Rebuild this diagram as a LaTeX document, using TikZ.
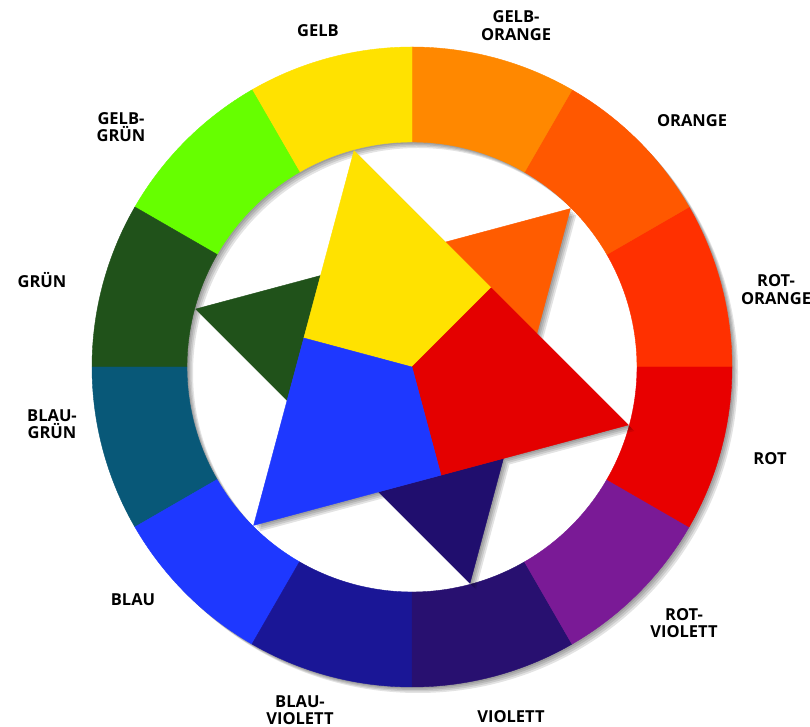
\documentclass[tikz,border=0pt]{standalone}
\usepackage{fontspec}
\setmainfont{Open Sans}
\usetikzlibrary{calc}
\definecolor{cGelb}{RGB}{255,226,0}
\definecolor{cGelbOrange}{RGB}{255,136,0}
\definecolor{cOrange}{RGB}{255,88,0}
\definecolor{cRotOrange}{RGB}{255,48,0}
\definecolor{cRot}{RGB}{232,0,0}
\definecolor{cRotViolett}{RGB}{122,26,150}
\definecolor{cViolett}{RGB}{40,16,112}
\definecolor{cBlauViolett}{RGB}{26,22,150}
\definecolor{cBlau}{RGB}{30,56,255}
\definecolor{cBlauGruen}{RGB}{8,88,120}
\definecolor{cGruen}{RGB}{32,82,26}
\definecolor{cGelbGruen}{RGB}{102,255,0}
\definecolor{sRot}{RGB}{228,0,0}
\definecolor{sOrange}{RGB}{255,92,0}
\definecolor{sViolett}{RGB}{32,14,110}
\begin{document}
\begin{tikzpicture}[x=1pt,y=1pt,
  lbl/.style={font=\bfseries\fontsize{16.5}{17.5}\selectfont, align=center, inner sep=0pt, text=black},
  shd/.style={fill=black, opacity=0.11},
  piece/.style={fill=#1, draw=#1, line width=0.4pt, line join=round}]
\useasboundingbox (0,0) rectangle (810,727);
\fill[white] (0,0) rectangle (810,727);
\coordinate (C) at (412,360);
\begin{scope}[shift={(C)}]
  % ring shadow
  \foreach \s in {1.5,3,4.5,6}{
    \fill[shd, even odd rule, shift={(\s,-\s)}] (0,0) circle[radius=320] (0,0) circle[radius=225];
  }
  % ring segments
  \foreach \a/\c in {0/cRotOrange, 30/cOrange, 60/cGelbOrange, 90/cGelb,
                     120/cGelbGruen, 150/cGruen, 180/cBlauGruen, 210/cBlau,
                     240/cBlauViolett, 270/cViolett, 300/cRotViolett, 330/cRot}{
    \fill[piece=\c] (\a:225) -- (\a:320) arc[start angle=\a, end angle=\a+30, radius=320]
      -- ({\a+30}:225) arc[start angle=\a+30, end angle=\a, radius=225] -- cycle;
  }
  % star points
  \coordinate (Y) at (105:224);
  \coordinate (R) at (-15:224);
  \coordinate (B) at (225:224);
  \coordinate (O) at (45:224);
  \coordinate (V) at (-75:224);
  \coordinate (G) at (165:224);
  \coordinate (M) at (0,0);
  \coordinate (mYR) at ($(Y)!0.5!(R)$);
  \coordinate (mRB) at ($(R)!0.5!(B)$);
  \coordinate (mBY) at ($(B)!0.5!(Y)$);
  \coordinate (yr1) at ($(Y)!1/3!(R)$);
  \coordinate (yr2) at ($(Y)!2/3!(R)$);
  \coordinate (rb1) at ($(R)!1/3!(B)$);
  \coordinate (rb2) at ($(R)!2/3!(B)$);
  \coordinate (by1) at ($(B)!1/3!(Y)$);
  \coordinate (by2) at ($(B)!2/3!(Y)$);
\end{scope}
% star shadow
\foreach \s in {1.5,3,4.5,6}{
  \begin{scope}[transform canvas={shift={(\s,-\s)}}]
    \fill[shd] (Y) -- (yr1) -- (O) -- (yr2) -- (R) -- (rb1) -- (V) -- (rb2)
      -- (B) -- (by1) -- (G) -- (by2) -- cycle;
  \end{scope}
}
% secondary triangles
\fill[piece=sOrange] (yr1) -- (O) -- (yr2) -- cycle;
\fill[piece=sViolett] (rb1) -- (V) -- (rb2) -- cycle;
\fill[piece=cGruen] (by1) -- (G) -- (by2) -- cycle;
% primary quads
\fill[piece=cGelb] (Y) -- (mYR) -- (M) -- (mBY) -- cycle;
\fill[piece=sRot] (R) -- (mRB) -- (M) -- (mYR) -- cycle;
\fill[piece=cBlau] (B) -- (mBY) -- (M) -- (mRB) -- cycle;
% labels
\node[lbl] (lGelb) at (318,696) {GELB};
\node[lbl] (lGelbOrange) at (516,701.5) {GELB-\\ORANGE};
\node[lbl] (lOrange) at (692,606.5) {ORANGE};
\node[lbl] (lRotOrange) at (776,437.5) {ROT-\\ORANGE};
\node[lbl] (lRot) at (770,268.5) {ROT};
\node[lbl] (lRotViolett) at (684,104) {ROT-\\VIOLETT};
\node[lbl] (lViolett) at (511,10) {VIOLETT};
\node[lbl] (lBlauViolett) at (300,17) {BLAU-\\VIOLETT};
\node[lbl] (lBlau) at (133,127) {BLAU};
\node[lbl] (lBlauGruen) at (52,303) {BLAU-\\GRÜN};
\node[lbl] (lGruen) at (42,447) {GRÜN};
\node[lbl] (lGelbGruen) at (121,600) {GELB-\\GRÜN};
\end{tikzpicture}
\end{document}
